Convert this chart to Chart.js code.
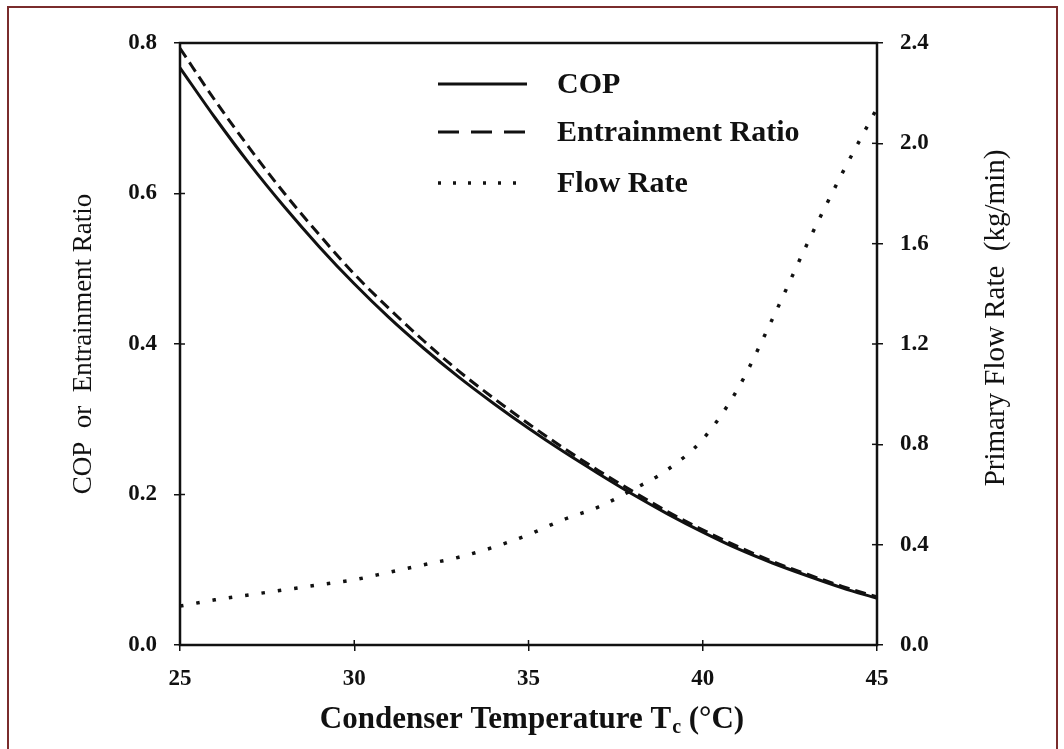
<!DOCTYPE html>
<html>
<head>
<meta charset="utf-8">
<script src="https://cdn.jsdelivr.net/npm/chart.js@4.4.1/dist/chart.umd.min.js"></script>
<style>
  html, body { margin: 0; padding: 0; background: #fff; }
  #wrap { position: relative; width: 1064px; height: 749px; overflow: hidden; }
  #frame { position: absolute; left: 7px; top: 6px; width: 1051px; height: 760px;
           border: 2px solid #7a2c2c; box-sizing: border-box; pointer-events: none; }
</style>
</head>
<body>
<div id="wrap">
  <canvas id="chart" width="1064" height="749"></canvas>
  <div id="frame"></div>
</div>
<script>
// Condenser temperature (°C)
const temps = [25, 26, 27, 28, 29, 30, 31, 32, 33, 34, 35, 36, 37, 38, 39, 40, 41, 42, 43, 44, 45];

// COP (left axis)
const cop = [0.767, 0.701, 0.639, 0.582, 0.529, 0.480, 0.435, 0.394, 0.356, 0.321, 0.288,
             0.257, 0.228, 0.200, 0.174, 0.150, 0.128, 0.109, 0.092, 0.076, 0.062];

// Entrainment ratio (left axis)
const entrainment = [0.793, 0.724, 0.660, 0.600, 0.545, 0.493, 0.447, 0.404, 0.364, 0.328, 0.294,
                     0.262, 0.232, 0.204, 0.177, 0.153, 0.131, 0.111, 0.094, 0.078, 0.064];

// Primary flow rate, kg/min (right axis)
const flowRate = [0.155, 0.18, 0.20, 0.22, 0.24, 0.26, 0.29, 0.32, 0.35, 0.39, 0.44,
                  0.50, 0.55, 0.62, 0.70, 0.82, 1.02, 1.30, 1.60, 1.88, 2.14];

const ink = '#111';
const serif = '"Liberation Serif", "DejaVu Serif", serif';

function pairs(values) {
    return temps.map((t, i) => ({ x: t, y: values[i] }));
}

// Frame, in-plot legend and axis titles
const decorations = {
    id: 'decorations',
    afterDraw(chart) {
        const ctx = chart.ctx;
        const area = chart.chartArea;
        ctx.save();

        // box around plot
        ctx.strokeStyle = ink;
        ctx.lineWidth = 2.5;
        ctx.setLineDash([]);
        ctx.strokeRect(area.left, area.top, area.right - area.left, area.bottom - area.top);

        // small inward tick marks (ticks cross the axis in the original)
        ctx.lineWidth = 1.5;
        const ys = [chart.scales.y, chart.scales.y2];
        ys.forEach(s => {
            s.ticks.forEach(t => {
                const py = s.getPixelForValue(t.value);
                const x0 = s.position === 'left' ? area.left : area.right;
                const dir = s.position === 'left' ? 1 : -1;
                ctx.beginPath();
                ctx.moveTo(x0, py);
                ctx.lineTo(x0 + dir * 5, py);
                ctx.stroke();
            });
        });
        chart.scales.x.ticks.forEach(t => {
            const px = chart.scales.x.getPixelForValue(t.value);
            ctx.beginPath();
            ctx.moveTo(px, area.bottom);
            ctx.lineTo(px, area.bottom - 5);
            ctx.stroke();
        });

        // legend
        const rows = [84, 132, 183];
        chart.data.datasets.forEach((ds, i) => {
            ctx.strokeStyle = ink;
            ctx.lineWidth = ds.borderWidth;
            ctx.setLineDash(ds.legendDash || []);
            ctx.beginPath();
            ctx.moveTo(438, rows[i]);
            ctx.lineTo(527, rows[i]);
            ctx.stroke();
            ctx.setLineDash([]);
            ctx.fillStyle = ink;
            ctx.font = 'bold 30px ' + serif;
            ctx.textBaseline = 'middle';
            ctx.textAlign = 'left';
            ctx.fillText(ds.label, 557, rows[i] + 1);
        });

        // left title
        ctx.fillStyle = ink;
        ctx.font = '27px ' + serif;
        ctx.textAlign = 'center';
        ctx.textBaseline = 'middle';
        ctx.save();
        ctx.translate(84, (area.top + area.bottom) / 2);
        ctx.rotate(-Math.PI / 2);
        ctx.fillText('COP  or  Entrainment Ratio', 0, 0);
        ctx.restore();

        // right title (reads bottom to top)
        ctx.font = '29px ' + serif;
        ctx.save();
        ctx.translate(996, 318);
        ctx.rotate(-Math.PI / 2);
        ctx.fillText('Primary Flow Rate  (kg/min)', 0, 0);
        ctx.restore();

        // x title with subscript
        const main = 'Condenser Temperature T';
        const sub = 'c';
        const tail = ' (°C)';
        ctx.font = 'bold 31px ' + serif;
        const w1 = ctx.measureText(main).width;
        const w3 = ctx.measureText(tail).width;
        ctx.font = 'bold 20px ' + serif;
        const w2 = ctx.measureText(sub).width;
        const total = w1 + w2 + w3;
        let x = (area.left + area.right) / 2 + 3 - total / 2;
        const y = 728;
        ctx.textAlign = 'left';
        ctx.textBaseline = 'alphabetic';
        ctx.font = 'bold 31px ' + serif;
        ctx.fillText(main, x, y);
        x += w1;
        ctx.font = 'bold 20px ' + serif;
        ctx.fillText(sub, x + 1, y + 5);
        x += w2 + 1;
        ctx.font = 'bold 31px ' + serif;
        ctx.fillText(tail, x, y);

        ctx.restore();
    }
};

const tickFont = { family: serif, size: 23, weight: 'bold' };

new Chart(document.getElementById('chart'), {
    type: 'line',
    data: {
        datasets: [{
            label: 'COP',
            data: pairs(cop),
            yAxisID: 'y',
            borderColor: ink,
            borderWidth: 3,
            legendDash: [],
            cubicInterpolationMode: 'monotone',
            pointRadius: 0
        }, {
            label: 'Entrainment Ratio',
            data: pairs(entrainment),
            yAxisID: 'y',
            borderColor: ink,
            borderWidth: 3,
            borderDash: [11, 6],
            legendDash: [21, 12],
            cubicInterpolationMode: 'monotone',
            pointRadius: 0
        }, {
            label: 'Flow Rate',
            data: pairs(flowRate),
            yAxisID: 'y2',
            borderColor: ink,
            borderWidth: 3.5,
            borderDash: [3.5, 13],
            legendDash: [3, 12],
            cubicInterpolationMode: 'monotone',
            pointRadius: 0
        }]
    },
    options: {
        responsive: false,
        animation: false,
        events: [],
        layout: { padding: { top: 43, left: 0, right: 0, bottom: 0 } },
        plugins: {
            legend: { display: false },
            tooltip: { enabled: false }
        },
        scales: {
            x: {
                type: 'linear',
                min: 25,
                max: 45,
                afterFit(scale) { scale.height = 104; },
                border: { display: false },
                grid: { drawOnChartArea: false, color: ink, tickLength: 6, lineWidth: 1.5 },
                ticks: { stepSize: 5, color: ink, font: tickFont, padding: 14 }
            },
            y: {
                position: 'left',
                min: 0,
                max: 0.8,
                afterFit(scale) { scale.width = 180; },
                border: { display: false },
                grid: { drawOnChartArea: false, color: ink, tickLength: 6, lineWidth: 1.5 },
                ticks: { stepSize: 0.2, color: ink, font: tickFont, padding: 17,
                         callback: v => v.toFixed(1) }
            },
            y2: {
                position: 'right',
                min: 0,
                max: 2.4,
                afterFit(scale) { scale.width = 187; },
                border: { display: false },
                grid: { drawOnChartArea: false, color: ink, tickLength: 6, lineWidth: 1.5 },
                ticks: { stepSize: 0.4, color: ink, font: tickFont, padding: 17,
                         callback: v => v.toFixed(1) }
            }
        }
    },
    plugins: [decorations]
});
</script>
</body>
</html>
